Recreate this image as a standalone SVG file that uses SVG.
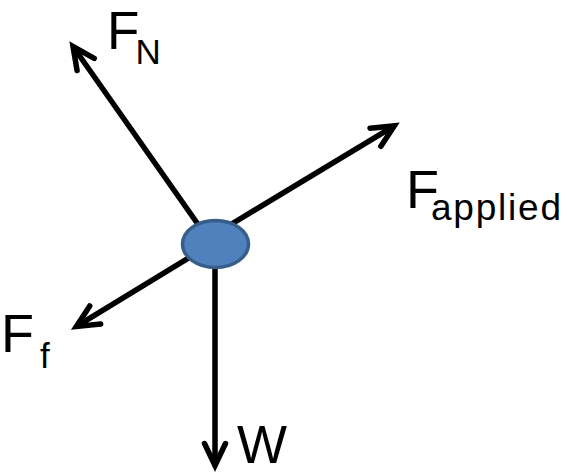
<svg xmlns="http://www.w3.org/2000/svg" width="567" height="475" viewBox="0 0 567 475">
  <defs>
    <style>
      .vec { stroke: #000; stroke-width: 5.5; fill: none; marker-end: url(#head); }
      .lbl { font-family: "Liberation Sans", Arial, sans-serif; fill: #000; }
    </style>
    <marker id="head" markerUnits="userSpaceOnUse" markerWidth="40" markerHeight="40" viewBox="-30 -20 40 40" refX="0" refY="0" orient="auto" overflow="visible">
      <path d="M -22 -10.5 L 0 0 L -22 10.5" fill="none" stroke="#000" stroke-width="5.5" stroke-linejoin="miter" stroke-linecap="round"/>
    </marker>
  </defs>
  <rect width="567" height="475" fill="#fff"/>
  <g id="connectors">
    <line id="arrow-FN" class="vec" x1="202" y1="230" x2="73" y2="46.5"/>
    <line id="arrow-Fapplied" class="vec" x1="225" y1="228" x2="394.3" y2="125.9"/>
    <line id="arrow-Ff" class="vec" x1="200" y1="251" x2="76.4" y2="326.4"/>
    <line id="arrow-W" class="vec" x1="215" y1="262" x2="215" y2="465.5"/>
  </g>
  <g id="body">
    <ellipse cx="215.5" cy="244" rx="33" ry="23.5" fill="#4F81BD" stroke="#385D8A" stroke-width="3.5"/>
  </g>
  <g id="label-FN">
    <text class="lbl"><tspan x="107" y="49" font-size="53">F</tspan><tspan x="135.5" y="64" font-size="35">N</tspan></text>
  </g>
  <g id="label-Fapplied">
    <text class="lbl"><tspan x="406" y="208" font-size="54">F</tspan><tspan x="431" y="220" font-size="37" textLength="130" lengthAdjust="spacing">applied</tspan></text>
  </g>
  <g id="label-Ff">
    <text class="lbl"><tspan x="1" y="352" font-size="54">F</tspan><tspan x="40" y="368" font-size="35">f</tspan></text>
  </g>
  <g id="label-W">
    <text class="lbl" x="237" y="463" font-size="53">W</text>
  </g>
</svg>
